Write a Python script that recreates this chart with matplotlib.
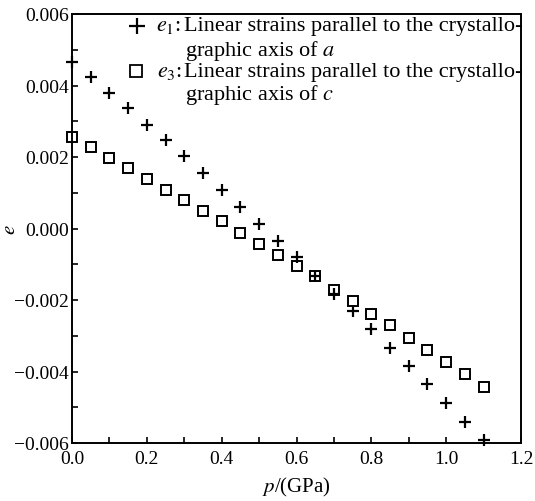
import numpy as np
import matplotlib
matplotlib.use("Agg")
import matplotlib.pyplot as plt
from matplotlib.ticker import MultipleLocator, FixedFormatter, FixedLocator

# pressure steps (GPa)
p = [0.00, 0.05, 0.10, 0.15, 0.20, 0.25, 0.30, 0.35, 0.40, 0.45, 0.50, 0.55,
     0.60, 0.65, 0.70, 0.75, 0.80, 0.85, 0.90, 0.95, 1.00, 1.05, 1.10]

# e1: linear strain parallel to a
e1 = [0.00465, 0.00423, 0.00379, 0.00337, 0.00290, 0.00247, 0.00203, 0.00155,
      0.00108, 0.00060, 0.00012, -0.00036, -0.00081, -0.00133, -0.00184,
      -0.00231, -0.00282, -0.00333, -0.00385, -0.00436, -0.00489, -0.00541,
      -0.00592]

# e3: linear strain parallel to c
e3 = [0.00257, 0.00228, 0.00197, 0.00168, 0.00138, 0.00108, 0.00080, 0.00049,
      0.00020, -0.00013, -0.00044, -0.00075, -0.00106, -0.00133, -0.00173,
      -0.00203, -0.00238, -0.00271, -0.00305, -0.00340, -0.00373, -0.00408,
      -0.00443]

x_ticks = [0.0, 0.2, 0.4, 0.6, 0.8, 1.0, 1.2]
x_labels = ["0.0", "0.2", "0.4", "0.6", "0.8", "1.0", "1.2"]
y_ticks = [-0.006, -0.004, -0.002, 0.000, 0.002, 0.004, 0.006]
y_labels = ["\u22120.006", "\u22120.004", "\u22120.002", "0.000", "0.002", "0.004", "0.006"]

plt.rcParams["font.family"] = "Liberation Serif"
plt.rcParams["mathtext.fontset"] = "stix"
plt.rcParams["font.size"] = 14

fig = plt.figure(figsize=(5.35, 5.02), dpi=100)
ax = fig.add_axes([72 / 535, 1 - 444 / 502, 449 / 535, 429 / 502])

ax.plot(p, e1, linestyle="None", marker="+", color="black", markersize=8,
        mew=1.6, clip_on=False)
ax.plot(p, e3, linestyle="None", marker="s", color="black", markersize=7.5,
        mew=1.4, fillstyle="none", clip_on=False)

ax.set_xlim(0, 1.2)
ax.set_ylim(-0.006, 0.006)
ax.xaxis.set_major_locator(FixedLocator(x_ticks))
ax.xaxis.set_major_formatter(FixedFormatter(x_labels))
ax.yaxis.set_major_locator(FixedLocator(y_ticks))
ax.yaxis.set_major_formatter(FixedFormatter(y_labels))
ax.xaxis.set_minor_locator(MultipleLocator(0.1))
ax.yaxis.set_minor_locator(MultipleLocator(0.001))
ax.tick_params(which="both", direction="in", length=4, width=1.2,
               top=False, right=False, labelsize=14)
ax.tick_params(axis="x", pad=5)
ax.tick_params(axis="y", pad=2)
for s in ax.spines.values():
    s.set_linewidth(1.4)

ax.set_xlabel("$p$/(GPa)", fontsize=15, labelpad=6)
ax.set_ylabel("$e$", fontsize=15)
ax.yaxis.set_label_coords(-52 / 449, 0.5)

# legend drawn by hand (hanging indent, marker on first line)
def fx(px):
    return (px - 72) / 449

def fy(py):
    return (444 - py) / 429

leg_size = 16
ax.plot([fx(137)], [fy(27)], transform=ax.transAxes, marker="+", color="black",
        markersize=12, mew=1.6, linestyle="None")
ax.plot([fx(136)], [fy(72)], transform=ax.transAxes, marker="s", color="black",
        markersize=9, mew=1.3, fillstyle="none", linestyle="None")

ax.text(fx(156), fy(27), "$e_1$:", transform=ax.transAxes, va="center",
        ha="left", fontsize=leg_size)
ax.text(fx(184), fy(27), "Linear strains parallel to the crystallo-",
        transform=ax.transAxes, va="center", ha="left", fontsize=leg_size)
ax.text(fx(185), fy(51), "graphic axis of $a$", transform=ax.transAxes,
        va="center", ha="left", fontsize=leg_size)
ax.text(fx(157), fy(72), "$e_3$:", transform=ax.transAxes, va="center",
        ha="left", fontsize=leg_size)
ax.text(fx(184), fy(72), "Linear strains parallel to the crystallo-",
        transform=ax.transAxes, va="center", ha="left", fontsize=leg_size)
ax.text(fx(185), fy(95), "graphic axis of $c$", transform=ax.transAxes,
        va="center", ha="left", fontsize=leg_size)

fig.savefig("out.png", dpi=100)
